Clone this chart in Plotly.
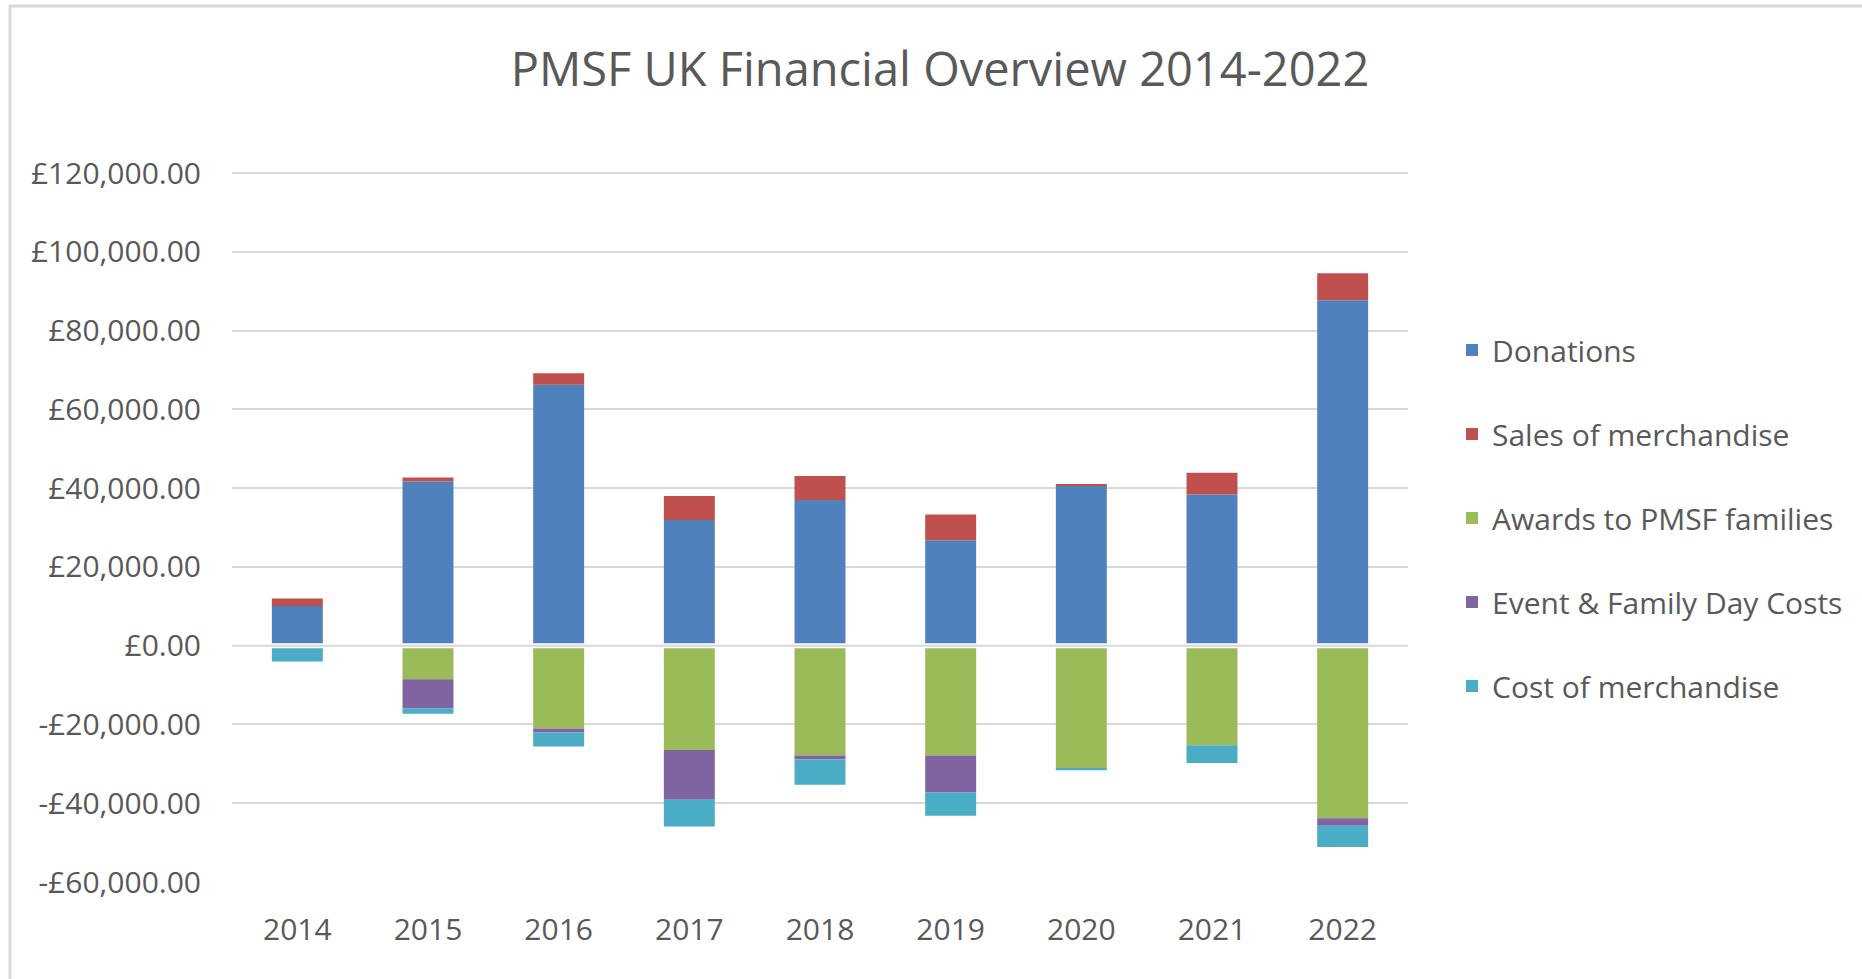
import plotly.graph_objects as go

years = ["2014", "2015", "2016", "2017", "2018", "2019", "2020", "2021", "2022"]
donations = [10100, 41700, 66300, 31900, 37000, 26800, 40700, 38400, 87700]
sales_merch = [1900, 1000, 2900, 6100, 6100, 6500, 400, 5500, 6900]
awards = [0, -8500, -21000, -26500, -27900, -27900, -31300, -25300, -43800]
event_costs = [0, -7400, -1000, -12600, -1000, -9400, 0, 0, -1900]
cost_merch = [-4000, -1400, -3600, -6800, -6400, -5900, -350, -4500, -5400]

series_names = ["Donations", "Sales of merchandise", "Awards to PMSF families",
                "Event & Family Day Costs", "Cost of merchandise"]
series_values = [donations, sales_merch, awards, event_costs, cost_merch]
series_colors = ["#4F81BD", "#C0504D", "#9BBB59", "#8064A2", "#4BACC6"]

tick_vals = [-60000, -40000, -20000, 0, 20000, 40000, 60000, 80000, 100000, 120000]


def gbp(v):
    s = "£{:,.2f}".format(abs(v))
    return ("-" + s) if v < 0 else s


tick_text = [gbp(v) for v in tick_vals]

FONT = "Open Sans"
GRAY = "#595959"
FS = 30

fig = go.Figure()
for name, vals, col in zip(series_names, series_values, series_colors):
    fig.add_trace(go.Bar(
        x=years, y=vals, name=name, legendgroup=name,
        marker=dict(color=col, line=dict(width=0)),
    ))

W, H = 1862, 979
L, R, T, B = 232, 454, 172, 97
pw = W - L - R
ph = H - T - B

fig.update_layout(
    width=W, height=H,
    margin=dict(l=L, r=R, t=T, b=B, autoexpand=False),
    barmode="relative",
    bargap=0.61,
    plot_bgcolor="white",
    paper_bgcolor="white",
    font=dict(family=FONT, color=GRAY, size=FS),
    title=dict(
        text="PMSF UK Financial Overview 2014-2022",
        x=940 / W, xanchor="center",
        y=1 - 70 / H, yanchor="middle",
        font=dict(family=FONT, size=47, color=GRAY),
    ),
    legend=dict(
        x=(1452 - L) / pw, xanchor="left",
        y=(H - B - 324) / ph, yanchor="top",
        traceorder="grouped",
        tracegroupgap=42,
        font=dict(family=FONT, size=FS, color=GRAY),
        bgcolor="rgba(0,0,0,0)",
    ),
    xaxis=dict(
        showgrid=False, zeroline=False, showline=False,
        ticks="", ticklabelstandoff=27,
        tickfont=dict(family=FONT, size=FS, color=GRAY),
    ),
    yaxis=dict(
        range=[-60000, 120300],
        tickvals=tick_vals, ticktext=tick_text,
        showgrid=True, gridcolor="#D9D9D9", gridwidth=2,
        zeroline=False,
        showline=False, ticks="", ticklabelstandoff=30,
        tickfont=dict(family=FONT, size=FS, color=GRAY),
    ),
    shapes=[
        dict(
            type="rect", xref="paper", yref="paper",
            x0=(10 - L) / pw, x1=(W + 20 - L) / pw,
            y0=(H - B - (H + 20)) / ph, y1=(H - B - 6) / ph,
            line=dict(color="#D9D9D9", width=3), fillcolor="rgba(0,0,0,0)",
            layer="below",
        ),
        dict(
            type="line", xref="paper", yref="y", x0=0, x1=1, y0=0, y1=0,
            line=dict(color="white", width=5), layer="above",
        ),
        dict(
            type="line", xref="paper", yref="y", x0=0, x1=1, y0=0, y1=0,
            line=dict(color="#D9D9D9", width=2), layer="above",
        ),
    ],
)

fig.write_html("out.html")
